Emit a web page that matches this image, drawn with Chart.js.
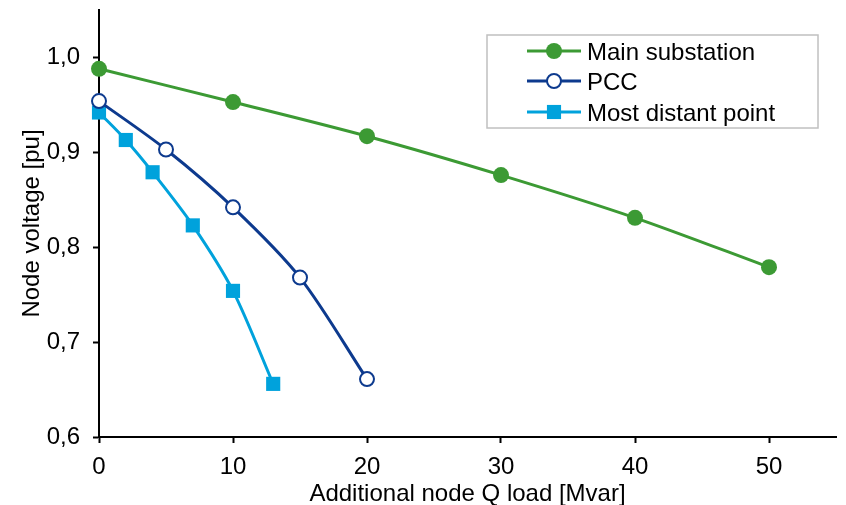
<!DOCTYPE html>
<html>
<head>
<meta charset="utf-8">
<script src="https://cdn.jsdelivr.net/npm/chart.js@4/dist/chart.umd.min.js"></script>
<style>
  html, body { margin: 0; padding: 0; background: #fff; }
  #chart { display: block; }
</style>
</head>
<body>
<canvas id="chart" width="846" height="505"></canvas>
<script>
"use strict";

// values
var mainQ = [0, 10, 20, 30, 40, 50];
var mainV = [0.988, 0.953, 0.917, 0.876, 0.831, 0.779];

var pccQ = [0, 5, 10, 15, 20];
var pccV = [0.954, 0.903, 0.842, 0.768, 0.661];

var distQ = [0, 2, 4, 7, 10, 13];
var distV = [0.942, 0.913, 0.879, 0.823, 0.754, 0.656];

var seriesNames = ["Main substation", "PCC", "Most distant point"];
var xTicks = [0, 10, 20, 30, 40, 50];
var yTicks = [0.6, 0.7, 0.8, 0.9, 1.0];

var green = "#3c9a34";
var navy = "#0d3a8e";
var sky = "#00a2dc";
var font = "'Liberation Sans', Arial, sans-serif";
var fontSize = 24;

function toPoints(xs, ys) {
  return xs.map(function(x, i) { return { x: x, y: ys[i] }; });
}

// legend drawn as a bordered box inside the plot, like the original
var boxLegend = {
  id: "boxLegend",
  afterDraw: function(chart) {
    var ctx = chart.ctx;
    var x0 = 487, y0 = 35, w = 331, h = 93;
    ctx.save();
    ctx.fillStyle = "#fff";
    ctx.fillRect(x0, y0, w, h);
    ctx.strokeStyle = "#c0c0c0";
    ctx.lineWidth = 1.5;
    ctx.strokeRect(x0, y0, w, h);

    var rows = [51, 81, 112];
    chart.data.datasets.forEach(function(ds, i) {
      var y = rows[i];
      ctx.strokeStyle = ds.borderColor;
      ctx.lineWidth = 3;
      ctx.beginPath();
      ctx.moveTo(527, y);
      ctx.lineTo(581, y);
      ctx.stroke();

      ctx.fillStyle = ds.pointBackgroundColor;
      ctx.strokeStyle = ds.pointBorderColor;
      ctx.lineWidth = ds.pointBorderWidth;
      ctx.beginPath();
      if (ds.pointStyle === "rect") {
        var s = Math.SQRT1_2 * ds.pointRadius;
        ctx.rect(554 - s, y - s, 2 * s, 2 * s);
      } else {
        ctx.arc(554, y, ds.pointRadius, 0, Math.PI * 2);
      }
      ctx.fill();
      if (ds.pointBorderWidth > 0) ctx.stroke();

      ctx.fillStyle = "#000";
      ctx.font = fontSize + "px " + font;
      ctx.textBaseline = "middle";
      ctx.fillText(seriesNames[i], 587, y + 2);
    });
    ctx.restore();
  }
};

new Chart(document.getElementById("chart"), {
  type: "scatter",
  data: {
    datasets: [
      {
        label: seriesNames[0],
        data: toPoints(mainQ, mainV),
        showLine: true,
        clip: false,
        tension: 0.3,
        borderColor: green,
        borderWidth: 3,
        pointStyle: "circle",
        pointRadius: 8,
        pointBackgroundColor: green,
        pointBorderColor: green,
        pointBorderWidth: 0
      },
      {
        label: seriesNames[1],
        data: toPoints(pccQ, pccV),
        showLine: true,
        clip: false,
        tension: 0.3,
        borderColor: navy,
        borderWidth: 3,
        pointStyle: "circle",
        pointRadius: 7,
        pointBackgroundColor: "#fff",
        pointBorderColor: navy,
        pointBorderWidth: 2
      },
      {
        label: seriesNames[2],
        data: toPoints(distQ, distV),
        showLine: true,
        clip: false,
        tension: 0.3,
        borderColor: sky,
        borderWidth: 3,
        pointStyle: "rect",
        pointRadius: 10,
        pointBackgroundColor: sky,
        pointBorderColor: sky,
        pointBorderWidth: 0
      }
    ]
  },
  options: {
    responsive: false,
    animation: false,
    layout: { padding: { top: 8, right: 10, left: 18, bottom: 0 } },
    plugins: {
      legend: { display: false },
      tooltip: { enabled: false }
    },
    scales: {
      x: {
        type: "linear",
        min: 0,
        max: 55,
        afterBuildTicks: function(axis) {
          axis.ticks = xTicks.map(function(v) { return { value: v }; });
        },
        afterFit: function(axis) {
          axis.height = 68;
          axis.paddingLeft = 0;
          axis.paddingRight = 0;
        },
        grid: { drawOnChartArea: false, tickLength: 6, tickColor: "#000", tickWidth: 2 },
        border: { color: "#000", width: 2 },
        ticks: {
          autoSkip: false,
          maxRotation: 0,
          color: "#000",
          font: { family: font, size: fontSize },
          padding: 10
        },
        title: {
          display: true,
          text: "Additional node Q load [Mvar]",
          color: "#000",
          font: { family: font, size: fontSize },
          padding: { top: 0, bottom: -4 }
        }
      },
      y: {
        type: "linear",
        min: 0.6,
        max: 1.05,
        afterBuildTicks: function(axis) {
          axis.ticks = yTicks.map(function(v) { return { value: v }; });
        },
        afterFit: function(axis) {
          axis.width = 81;
          axis.paddingTop = 0;
          axis.paddingBottom = 0;
        },
        grid: { drawOnChartArea: false, tickLength: 6, tickColor: "#000", tickWidth: 2 },
        border: { color: "#000", width: 2 },
        ticks: {
          autoSkip: false,
          color: "#000",
          font: { family: font, size: fontSize },
          padding: 13,
          callback: function(v) { return v.toFixed(1).replace(".", ","); }
        },
        title: {
          display: true,
          text: "Node voltage [pu]",
          color: "#000",
          font: { family: font, size: fontSize },
          padding: { top: 0, bottom: 0 }
        }
      }
    }
  },
  plugins: [boxLegend]
});
</script>
</body>
</html>
